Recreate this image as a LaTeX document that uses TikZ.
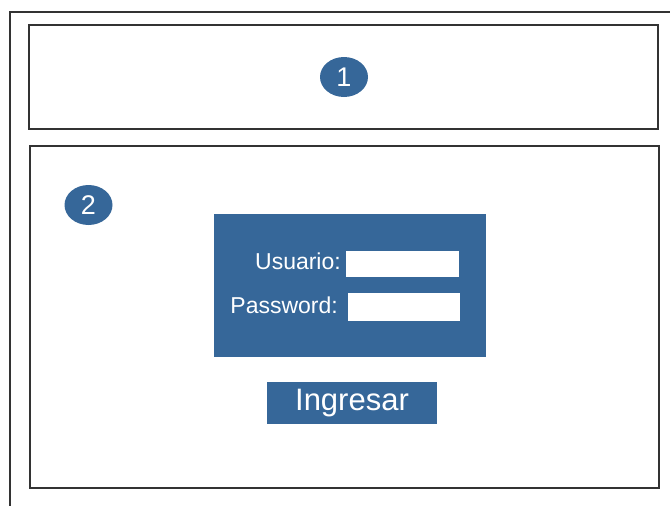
\documentclass[tikz,border=0pt]{standalone}
\usepackage{fontspec}
\setmainfont{Liberation Sans}
\usetikzlibrary{shapes.geometric}
\definecolor{formblue}{RGB}{54,103,153}
\tikzset{
	frame/.style={draw=black!80, line width=1.8pt},
	badge/.style={ellipse, fill=formblue, text=white, minimum width=48pt, minimum height=40pt, inner sep=0pt, font=\fontsize{27}{27}\selectfont},
	field/.style={fill=white, inner sep=0pt},
	flabel/.style={text=white, inner sep=0pt, anchor=base east, font=\fontsize{23}{23}\selectfont},
}

\begin{document}
\begin{tikzpicture}[x=1pt, y=-1pt]
	\useasboundingbox (0,0) rectangle (670,506);
	\draw[frame, line width=2.2pt] (10,506) -- (10,12) -- (670,12);
	
	% header and body
	\node[frame, minimum width=629pt, minimum height=104pt] (header) at (343.5,77) {};
	\node[frame, minimum width=629pt, minimum height=342pt] (body) at (344.5,317) {};
	\node[badge] (one) at (344,77) {1};
	\node[badge] (two) at (88.5,205) {2};
	
	% login form
	\node[fill=formblue, minimum width=272pt, minimum height=143pt] (panel) at (350,285.5) {};
	\node[field, minimum width=113pt, minimum height=26pt] (user) at (402.5,264) {};
	\node[field, minimum width=112pt, minimum height=28pt] (pass) at (404,307) {};
	\node[flabel] (userlbl) at (341,269.5) {Usuario:};
	\node[flabel] (passlbl) at (338,313) {Password:};
	
	\node[fill=formblue, text=white, minimum width=170pt, minimum height=42pt, inner sep=0pt, font=\fontsize{31}{31}\selectfont] (login) at (352,403) {Ingresar};
	
\end{tikzpicture}
\end{document}
